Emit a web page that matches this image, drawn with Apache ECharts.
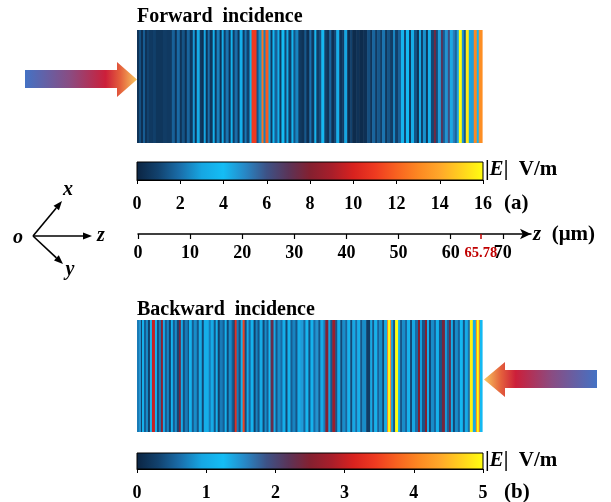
<!DOCTYPE html>
<html><head><meta charset="utf-8">
<script src="https://cdn.jsdelivr.net/npm/echarts@6/dist/echarts.min.js"></script>
<style>html,body{margin:0;padding:0;background:#fff}#c{width:611px;height:502px}</style>
</head><body><div id="c"></div>
<script>
// ---- data ----
const zLength = 65.78; // µm, total structure length
const zTicks = [0, 10, 20, 30, 40, 50, 60, 70];
const zMark = [65.78];
const fwdTicks = [0, 2, 4, 6, 8, 10, 12, 14, 16];
const bwdTicks = [0, 1, 2, 3, 4, 5];

// forward incidence: layer thickness (µm) and |E| (V/m)
const fwdWidth = [
0.38,0.38,0.38,0.38,0.38,0.38,0.76,0.57,1.32,0.76,0.95,0.57,0.38,0.57,0.38,0.57,0.38,0.57,0.57,0.38,0.38,0.57,0.38,
0.38,0.38,0.38,0.38,0.57,0.38,0.38,0.57,0.38,0.38,0.38,0.57,0.38,0.38,0.38,0.57,0.38,0.57,0.38,0.38,0.57,0.38,
0.95,0.38,0.57,0.38,0.38,0.57,
0.38,0.38,0.38,0.57,0.38,0.38,0.57,0.38,0.38,0.57,0.38,0.38,0.57,0.57,
0.57,0.38,0.57,0.38,0.57,0.38,0.57,0.38,0.57,0.38,0.57,0.38,
0.57,0.38,0.57,0.57,0.38,0.57,0.57,0.38,0.76,0.57,0.76,0.76,
0.57,0.38,0.57,0.38,0.57,0.38,0.57,0.38,0.57,0.57,0.38,0.57,0.57,
0.57,0.38,0.57,0.38,0.57,0.57,
0.38,0.38,0.38,0.57,0.38,0.57,0.57,
0.38,0.38,0.57,0.38,0.38,0.57,0.38,0.57,0.38,0.38,0.38,
0.57,0.38,0.38,0.57,0.38,0.57,0.57,0.38,0.62];
const fwdE = [
0.5,1.3,0.4,1.6,0.5,1.0,0.7,0.9,0.6,0.8,0.7,1.7,0.5,1.9,0.5,1.4,0.4,1.8,0.6,2.8,0.5,3.2,0.7,
0.4,3.0,0.5,2.0,0.6,3.5,0.7,2.3,0.4,3.3,0.9,2.1,0.5,3.6,0.8,2.0,0.6,3.4,0.7,2.2,1.0,3.7,
11.0,1.4,2.6,12.5,2.3,11.8,
3.0,0.7,3.8,1.7,3.4,0.6,3.9,1.1,3.2,0.8,3.6,1.4,2.4,0.7,
0.5,1.5,0.4,2.0,0.7,3.6,0.8,1.3,3.8,0.9,0.5,1.8,
0.4,1.1,3.4,0.5,0.8,3.0,0.3,1.0,0.25,0.5,0.25,0.4,
1.3,0.5,1.8,0.7,1.5,0.8,2.1,0.6,1.4,0.8,2.4,0.9,1.7,
3.6,1.1,3.9,0.7,3.3,1.4,
0.5,3.2,0.9,2.6,0.6,3.4,1.1,
7.5,1.2,4.6,7.0,1.6,4.8,6.2,4.4,5.2,1.8,4.5,
16,4.8,1.5,15.5,3.0,4.6,13.0,4.2,13.2];

// backward incidence: layer thickness (µm) and |E| (V/m)
const bwdWidth = [
0.38,0.38,0.19,0.38,0.38,0.38,0.38,0.38, 0.57, 0.38,0.38,0.38, 0.38,
0.38,0.38,0.38,0.38,0.38,0.38,0.38,0.38, 0.38,
0.38,0.38,0.57,0.19,0.57,0.38,0.57,0.38,0.57,0.38,
0.95,0.38,0.57,
0.38,0.38,0.38,0.57,0.38,0.38,0.38,0.57,0.38,0.19, 0.38,
0.38,0.38,0.38, 0.38,
0.38,0.38,0.38,0.57,0.38,0.38,0.38,0.57,0.38,0.38,0.38,0.38, 0.57,
0.38,0.38,0.57,0.38,0.57,0.38,0.57,0.38,0.57,0.38,0.57,
0.57,0.38,0.57,0.38,0.57,0.38,0.57,0.38,0.57,0.38, 0.57,
0.38,0.38, 0.57,
0.38,0.57,0.38,0.57,0.38,0.57,0.38,0.57,0.38,0.57,0.38,0.76, 0.76,
0.38,0.38,0.57,0.38,0.57,0.38,0.57,
0.19,0.38,0.19, 0.38,0.38, 0.57,
0.38,0.38,0.57,0.38,0.57,0.38,0.57,0.57, 0.38,
0.38,0.57, 0.38,
0.38,0.38,0.57,0.38,0.57,0.57, 0.57,
0.38,0.38, 0.38,
0.38,0.38,0.57,0.38,0.57,0.38,0.57,0.38, 0.57, 0.57,
0.19,0.38,0.19, 0.42];
const bwdE = [
0.7,1.5,0.3,1.1,0.5,0.8,0.3,1.3, 3.0, 1.1,0.4,0.7, 2.6,
1.0,0.5,0.75,0.3,1.1,0.5,0.8,0.35, 2.4,
1.0,0.4,0.7,0.3,1.1,0.5,0.8,0.45,1.0,0.35,
1.05,0.7,1.0,
0.45,1.1,0.3,0.7,0.5,1.1,0.35,0.8,0.5,0.3, 3.3,
0.7,0.4,1.1, 3.5,
0.4,1.0,0.55,1.1,0.3,0.75,0.45,1.0,0.35,0.8,0.5,1.2, 2.3,
1.0,0.45,0.8,0.6,1.05,0.35,1.1,0.5,0.75,0.45,1.0,
1.45,0.55,1.3,0.4,1.1,0.6,1.5,0.45,1.0,0.7, 2.5,
0.9,0.45, 2.7,
0.45,1.05,0.35,0.8,0.55,1.1,0.35,0.95,0.6,1.05,0.45,0.8, 0.25,
1.0,0.45,1.1,0.55,0.8,0.35,1.0,
4.0,5.0,4.0, 0.9,0.45, 5.0,
1.05,0.45,0.8,0.55,1.1,0.35,0.95,0.6, 2.5,
0.9,0.45, 2.5,
1.05,0.35,0.8,0.55,1.1,0.45, 2.4,
0.9,0.55, 2.3,
1.05,0.35,0.8,0.55,1.2,0.45,1.0,0.65, 4.9, 1.0,
4.0,5.0,4.0, 1.2];

// colour map (evenly spaced from min to max)
const palette = ['#0b2442','#12426e','#1a6eaa','#16a6e2','#14bdf5','#2788c6','#3d5286','#5a3458',
  '#842030','#a81e2a','#d8221f','#ee3a20','#f86220','#fc8822','#ffa82a','#ffd21e','#ffff10'];

// ---- build ----
function layers(w, e) {
  const out = []; let s = 0;
  for (let i = 0; i < Math.min(w.length, e.length); i++) { out.push([s, s + w[i], e[i]]); s += w[i]; }
  return out;
}
const FONT = 'Liberation Serif';
const chart = echarts.init(document.getElementById('c'), null, {renderer: 'canvas'});

function stripItem(params, api) {
  const a = api.coord([api.value(0), 0]);
  const b = api.coord([api.value(1), 1]);
  return {type: 'rect', shape: {x: a[0], y: b[1], width: b[0] - a[0] + 0.6, height: a[1] - b[1]},
    style: {fill: api.visual('color')}};
}
function barItem(params, api) {
  const a = api.coord([api.value(0), 0]);
  const b = api.coord([api.value(1), 1]);
  const stops = palette.map((c, i) => ({offset: i / (palette.length - 1), color: c}));
  return {type: 'rect', shape: {x: a[0], y: b[1], width: b[0] - a[0], height: a[1] - b[1]},
    style: {fill: new echarts.graphic.LinearGradient(0, 0, 1, 0, stops), stroke: '#000', lineWidth: 1}};
}
const lblStyle = {fontFamily: FONT, fontWeight: 'bold', fontSize: 18, color: '#000'};
const hidden = {show: false};
function hiddenY(g) { return {gridIndex: g, type: 'value', min: 0, max: 1, show: false}; }

const grids = [
  {left: 137, top: 30, width: 345, height: 113},   // forward strip
  {left: 137, top: 162, width: 346, height: 18},   // colorbar a
  {left: 138, top: 233, width: 393, height: 1},    // z axis
  {left: 137, top: 320, width: 345, height: 112},  // backward strip
  {left: 137, top: 453, width: 346, height: 17}    // colorbar b
];

function arrowLine(x1, y1, x2, y2) {
  const ang = Math.atan2(y2 - y1, x2 - x1), L = 9, W = 3.5;
  const bx = x2 - L * Math.cos(ang), by = y2 - L * Math.sin(ang);
  const nx = -Math.sin(ang), ny = Math.cos(ang);
  return [
    {type: 'line', shape: {x1, y1, x2: bx, y2: by}, style: {stroke: '#000', lineWidth: 1.6}},
    {type: 'polygon', shape: {points: [[x2, y2], [bx + nx * W, by + ny * W], [bx, by], [bx - nx * W, by - ny * W]]},
      style: {fill: '#000'}}
  ];
}
function txt(x, y, text, size, extra) {
  return {type: 'text', x, y, z: 20, style: Object.assign({text, fontFamily: FONT, fontWeight: 'bold',
    fontSize: size, fill: '#000', verticalAlign: 'middle', align: 'left'}, extra || {})};
}
const eLabelRich = {
  n: {fontFamily: FONT, fontWeight: 'bold', fontSize: 21, fill: '#000'},
  i: {fontFamily: FONT, fontWeight: 'bold', fontStyle: 'italic', fontSize: 21, fill: '#000'}
};
const arrowGrad = (dir) => new echarts.graphic.LinearGradient(dir ? 0 : 1, 0, dir ? 1 : 0, 0, [
  {offset: 0, color: '#4472c4'}, {offset: 0.4, color: '#8a4c82'}, {offset: 0.72, color: '#cc1f3a'},
  {offset: 0.85, color: '#e4603c'}, {offset: 1, color: '#f8c860'}]);

const graphics = [
  {type: 'polygon', shape: {points: [[25, 70], [117, 70], [117, 62], [137, 79.5], [117, 97], [117, 88], [25, 88]]},
    style: {fill: arrowGrad(true)}},
  {type: 'polygon', shape: {points: [[597, 370], [505, 370], [505, 362], [484, 379.5], [505, 397], [505, 388], [597, 388]]},
    style: {fill: arrowGrad(false)}},
  ...arrowLine(33, 236, 62, 201),
  ...arrowLine(33, 236, 92, 236),
  ...arrowLine(33, 236, 63, 264),
  txt(18, 238, 'o', 20, {fontStyle: 'italic', align: 'center'}),
  txt(68, 190, 'x', 20, {fontStyle: 'italic', align: 'center'}),
  txt(101, 236, 'z', 20, {fontStyle: 'italic', align: 'center'}),
  txt(70, 270, 'y', 20, {fontStyle: 'italic', align: 'center'}),
  txt(137, 17, 'Forward  incidence', 20),
  txt(137, 310, 'Backward  incidence', 20),
  {type: 'text', x: 485, y: 170, z: 20, style: {text: '{n||}{i|E}{n||  V/m}', rich: eLabelRich, verticalAlign: 'middle'}},
  {type: 'text', x: 485, y: 461, z: 20, style: {text: '{n||}{i|E}{n||  V/m}', rich: eLabelRich, verticalAlign: 'middle'}},
  txt(504, 204, '(a)', 21),
  txt(504, 493, '(b)', 21),
  {type: 'text', x: 533, y: 235, z: 20, style: {text: '{i|z}{n|  (μm)}', rich: eLabelRich, verticalAlign: 'middle'}}
];

const option = {
  animation: false,
  grid: grids,
  xAxis: [
    {gridIndex: 0, type: 'value', min: 0, max: zLength, show: false},
    {gridIndex: 1, type: 'value', min: fwdTicks[0], max: fwdTicks[fwdTicks.length - 1], interval: 2,
      axisLine: {lineStyle: {color: '#000'}}, axisTick: {length: 4, lineStyle: {color: '#000'}},
      splitLine: hidden, axisLabel: Object.assign({margin: 15}, lblStyle)},
    {gridIndex: 2, type: 'value', min: 0, max: 75.4, position: 'bottom',
      axisLine: {lineStyle: {color: '#000', width: 1.5}, symbol: ['none', 'arrow'], symbolSize: [8, 11]},
      axisTick: {length: 5, lineStyle: {color: '#000', width: 1.2}, customValues: zTicks},
      splitLine: hidden, axisLabel: Object.assign({margin: 10, customValues: zTicks}, lblStyle)},
    {gridIndex: 2, type: 'value', min: 0, max: 75.4, position: 'bottom',
      axisLine: hidden,
      axisTick: {length: 5, lineStyle: {color: '#c00000', width: 1.5}, customValues: zMark},
      splitLine: hidden, axisLabel: {margin: 12, customValues: zMark, fontFamily: FONT, fontWeight: 'bold', fontSize: 14.5, color: '#c00000'}},
    {gridIndex: 3, type: 'value', min: 0, max: zLength, show: false},
    {gridIndex: 4, type: 'value', min: bwdTicks[0], max: bwdTicks[bwdTicks.length - 1], interval: 1,
      axisLine: {lineStyle: {color: '#000'}}, axisTick: {length: 4, lineStyle: {color: '#000'}},
      splitLine: hidden, axisLabel: Object.assign({margin: 15}, lblStyle)}
  ],
  yAxis: [hiddenY(0), hiddenY(1), hiddenY(2), hiddenY(3), hiddenY(4)],
  visualMap: [
    {show: false, type: 'continuous', seriesIndex: 0, dimension: 2, min: fwdTicks[0], max: fwdTicks[fwdTicks.length - 1], inRange: {color: palette}},
    {show: false, type: 'continuous', seriesIndex: 1, dimension: 2, min: bwdTicks[0], max: bwdTicks[bwdTicks.length - 1], inRange: {color: palette}}
  ],
  series: [
    {type: 'custom', xAxisIndex: 0, yAxisIndex: 0, data: layers(fwdWidth, fwdE), renderItem: stripItem, silent: true},
    {type: 'custom', xAxisIndex: 4, yAxisIndex: 3, data: layers(bwdWidth, bwdE), renderItem: stripItem, silent: true},
    {type: 'custom', xAxisIndex: 1, yAxisIndex: 1, data: [[fwdTicks[0], fwdTicks[fwdTicks.length - 1]]], renderItem: barItem, silent: true},
    {type: 'custom', xAxisIndex: 5, yAxisIndex: 4, data: [[bwdTicks[0], bwdTicks[bwdTicks.length - 1]]], renderItem: barItem, silent: true}
  ],
  graphic: graphics
};
chart.setOption(option);
</script>
</body></html>
